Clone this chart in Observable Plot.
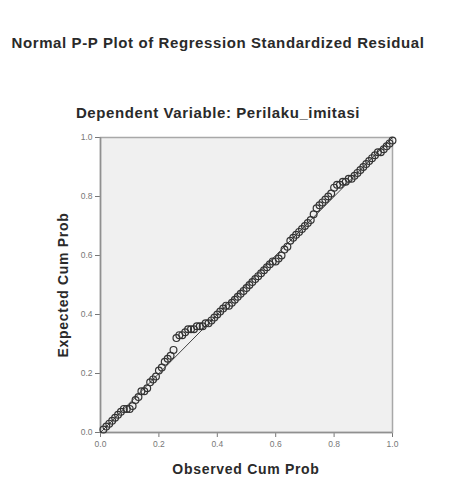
<!DOCTYPE html>
<html>
<head>
<meta charset="utf-8">
<script src="https://cdn.jsdelivr.net/npm/d3@7"></script>
<script src="https://cdn.jsdelivr.net/npm/@observablehq/plot@0.6"></script>
<style>
  html, body { margin: 0; padding: 0; background: #fff; }
  #wrap { position: relative; width: 468px; height: 478px; font-family: "Liberation Sans", Arial, sans-serif; }
  .t { position: absolute; white-space: nowrap; font-weight: bold; color: #2a2a2a; }
  #title { left: 0; width: 436px; top: 34px; text-align: center; font-size: 15px; letter-spacing: 0.6px; }
  #subtitle { left: 0; width: 436px; top: 104px; text-align: center; font-size: 15px; letter-spacing: 0.6px; }
  #xlabel { left: 100px; width: 292px; top: 461px; text-align: center; font-size: 14px; letter-spacing: 0.7px; }
  #ylabel { left: 63px; top: 285px; font-size: 14px; letter-spacing: 0.7px; transform: translate(-50%, -50%) rotate(-90deg); }
  #chart { position: absolute; left: 0; top: 0; }
</style>
</head>
<body>
<div id="wrap">
  <div id="chart"></div>
  <div class="t" id="title">Normal P-P Plot of Regression Standardized Residual</div>
  <div class="t" id="subtitle">Dependent Variable: Perilaku_imitasi</div>
  <div class="t" id="xlabel">Observed Cum Prob</div>
  <div class="t" id="ylabel">Expected Cum Prob</div>
</div>
<script>
const observed = [
  0.01, 0.02, 0.03, 0.04, 0.05, 0.06, 0.07, 0.08, 0.09, 0.10,
  0.11, 0.12, 0.13, 0.14, 0.15, 0.16, 0.17, 0.18, 0.19, 0.20,
  0.21, 0.22, 0.23, 0.24, 0.25, 0.26, 0.27, 0.28, 0.29, 0.30,
  0.31, 0.32, 0.33, 0.34, 0.35, 0.36, 0.37, 0.38, 0.39, 0.40,
  0.41, 0.42, 0.43, 0.44, 0.45, 0.46, 0.47, 0.48, 0.49, 0.50,
  0.51, 0.52, 0.53, 0.54, 0.55, 0.56, 0.57, 0.58, 0.59, 0.60,
  0.61, 0.62, 0.63, 0.64, 0.65, 0.66, 0.67, 0.68, 0.69, 0.70,
  0.71, 0.72, 0.73, 0.74, 0.75, 0.76, 0.77, 0.78, 0.79, 0.80,
  0.81, 0.82, 0.83, 0.84, 0.85, 0.86, 0.87, 0.88, 0.89, 0.90,
  0.91, 0.92, 0.93, 0.94, 0.95, 0.96, 0.97, 0.98, 0.99, 1.00];
const expected = [
  0.01, 0.02, 0.03, 0.04, 0.05, 0.06, 0.07, 0.08, 0.08, 0.08,
  0.09, 0.11, 0.12, 0.14, 0.14, 0.15, 0.17, 0.18, 0.19, 0.21,
  0.22, 0.24, 0.25, 0.26, 0.28, 0.32, 0.33, 0.33, 0.34, 0.35,
  0.35, 0.35, 0.36, 0.36, 0.36, 0.37, 0.37, 0.38, 0.39, 0.40,
  0.41, 0.42, 0.43, 0.43, 0.44, 0.45, 0.46, 0.47, 0.48, 0.49,
  0.50, 0.51, 0.52, 0.53, 0.54, 0.55, 0.56, 0.57, 0.58, 0.58,
  0.59, 0.60, 0.62, 0.63, 0.65, 0.66, 0.67, 0.68, 0.69, 0.70,
  0.71, 0.72, 0.74, 0.76, 0.77, 0.78, 0.79, 0.80, 0.81, 0.83,
  0.84, 0.84, 0.85, 0.85, 0.86, 0.86, 0.87, 0.88, 0.89, 0.90,
  0.91, 0.92, 0.93, 0.94, 0.95, 0.95, 0.96, 0.97, 0.98, 0.99];
const tickValues = [0.0, 0.2, 0.4, 0.6, 0.8, 1.0];
const referenceLine = [0, 1];

const points = observed.map((o, i) => ({observed: o, expected: expected[i]}));
const fmt = d3.format(".1f");

const chart = Plot.plot({
  width: 468,
  height: 478,
  marginLeft: 100,
  marginRight: 76,
  marginTop: 137,
  marginBottom: 46,
  style: {fontFamily: "'Liberation Sans', Arial, sans-serif", fontSize: "8.5px", color: "#777", background: "transparent"},
  x: {domain: [0, 1], ticks: tickValues, tickFormat: fmt, tickSize: 5, tickPadding: 3, label: null},
  y: {domain: [0, 1], ticks: tickValues, tickFormat: fmt, tickSize: 5, tickPadding: 3, label: null},
  marks: [
    Plot.frame({fill: "#f0f0f0", stroke: "#a8a8a8", strokeWidth: 1.5}),
    Plot.ruleX([0], {stroke: "#909090", strokeWidth: 1.5}),
    Plot.ruleY([0], {stroke: "#909090", strokeWidth: 1.5}),
    Plot.line(referenceLine, {x: d => d, y: d => d, stroke: "#444", strokeWidth: 1}),
    Plot.dot(points, {x: "observed", y: "expected", r: 3.4, stroke: "#333", strokeWidth: 1.2, fill: "none"})
  ]
});
document.getElementById("chart").appendChild(chart);
</script>
</body>
</html>
